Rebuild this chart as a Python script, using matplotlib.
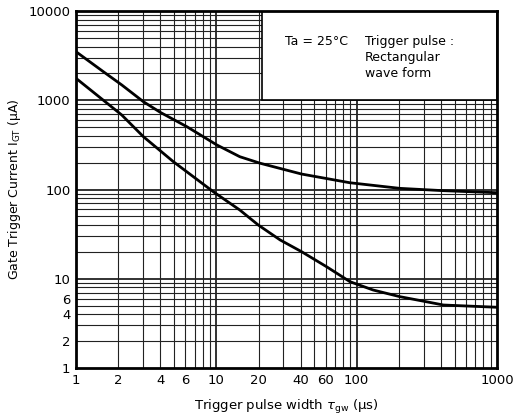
import matplotlib
matplotlib.use("Agg")
import matplotlib.pyplot as plt
from matplotlib.patches import Rectangle

# Data
upper_x = [1, 1.566, 2.12, 3.02, 4.0, 6.16, 10.07, 14.7, 20.5, 40.5, 89.6, 203, 415, 1000]
upper_y = [3500, 2090, 1483, 964, 730, 506, 316, 233, 197, 149, 119, 103, 97, 92]
lower_x = [1, 2.12, 3.02, 4.94, 9.51, 14.7, 19.9, 28.5, 40.5, 61.2, 89.6, 131, 203, 415, 1000]
lower_y = [1762, 683, 391, 205, 94.5, 58.9, 40, 27.2, 20.1, 13.6, 9.27, 7.48, 6.30, 5.08, 4.79]

xticks = [1, 2, 4, 6, 10, 20, 40, 60, 100, 1000]
xtick_labels = ["1", "2", "4", "6", "10", "20", "40", "60", "100", "1000"]
yticks = [1, 2, 4, 6, 10, 100, 1000, 10000]
ytick_labels = ["1", "2", "4", "6", "10", "100", "1000", "10000"]

plt.rcParams['font.family'] = ['DejaVu Sans']
fig = plt.figure(figsize=(5.17, 4.18), dpi=100)
ax = fig.add_axes([76/517, 1-368/418, (497-76)/517, (368-11)/418])
ax.set_xscale('log')
ax.set_yscale('log')
ax.set_xlim(1, 1000)
ax.set_ylim(1, 10000)

# grid lines
for k in range(3):
    for m in range(1, 10):
        v = m * 10**k
        if 1 < v < 1000:
            ax.axvline(v, color='#222222', lw=1.3 if m == 1 else 0.8, zorder=1)
for k in range(4):
    for m in range(1, 10):
        v = m * 10**k
        if 1 < v < 10000:
            ax.axhline(v, color='#222222', lw=1.3 if m == 1 else 0.8, zorder=1)

# legend box
ax.add_patch(Rectangle((21, 1000), 1000-21, 10000-1000, facecolor='white',
                       edgecolor='black', lw=1.2, zorder=2))
ax.text(0.497, 0.915, "Ta = 25°C", transform=ax.transAxes, fontsize=9, va='center', zorder=3)
ax.text(0.687, 0.915, "Trigger pulse :", transform=ax.transAxes, fontsize=9, va='center', zorder=3)
ax.text(0.687, 0.870, "Rectangular", transform=ax.transAxes, fontsize=9, va='center', zorder=3)
ax.text(0.687, 0.825, "wave form", transform=ax.transAxes, fontsize=9, va='center', zorder=3)

ax.plot(upper_x, upper_y, color='black', lw=2.0, zorder=4, solid_joinstyle='round')
ax.plot(lower_x, lower_y, color='black', lw=2.0, zorder=4, solid_joinstyle='round')

ax.set_xticks(xticks)
ax.set_xticklabels(xtick_labels, fontsize=9.5)
ax.set_yticks(yticks)
ax.set_yticklabels(ytick_labels, fontsize=9.5)
ax.minorticks_off()
ax.tick_params(length=0, pad=4)
for s in ax.spines.values():
    s.set_linewidth(2.0)

ax.set_xlabel("Trigger pulse width $\\tau_{\\rm gw}$ (μs)", fontsize=9.5, labelpad=8)
ax.set_ylabel("Gate Trigger Current I$_{\\rm GT}$ (μA)", fontsize=9, labelpad=4)

fig.savefig("out.png", dpi=100)
